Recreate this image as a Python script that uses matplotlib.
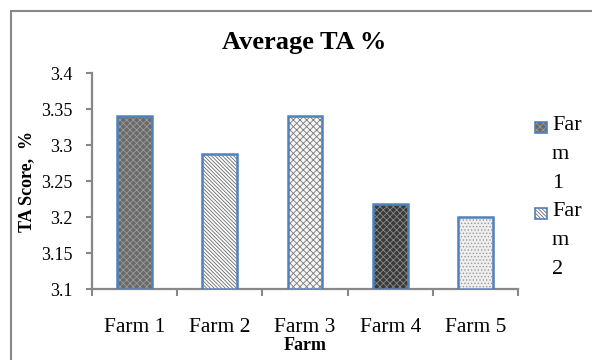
import numpy as np
import matplotlib
matplotlib.use("Agg")
import matplotlib.pyplot as plt
from matplotlib.patches import Rectangle

categories = ["Farm 1", "Farm 2", "Farm 3", "Farm 4", "Farm 5"]
values = [3.34, 3.288, 3.34, 3.218, 3.20]
legend_labels = ["Farm 1", "Farm 2"]
yticks = [3.1, 3.15, 3.2, 3.25, 3.3, 3.35, 3.4]
ytick_labels = ["3.1", "3.15", "3.2", "3.25", "3.3", "3.35", "3.4"]
title = "Average TA %"
xlabel = "Farm"
ylabel = "TA Score,  %"

# styles: (face, hatch colour, hatch)
styles = [
    ("#6a6a6a", "#9a9a9a", "xxxxx"),
    ("#ffffff", "#6a6a6a", "\\\\\\\\\\\\\\\\\\"),
    ("#f6f6f6", "#7a7a7a", "xxxxx"),
    ("#3a3a3a", "#8a8a8a", "xxxxx"),
    ("#eeeeee", "#9a9a9a", "....."),
]
edge_blue = "#4F81BD"
axis_gray = "#888888"

plt.rcParams["font.family"] = ["Liberation Serif", "DejaVu Serif"]
plt.rcParams["hatch.linewidth"] = 0.6

fig = plt.figure(figsize=(5.92, 3.6), dpi=100)
W, H = 592, 360
ax = fig.add_axes([92 / W, 1 - 289 / H, 426 / W, 216 / H])

base = yticks[0]
x = np.arange(len(categories))
bw = 0.41
for i, v in enumerate(values):
    fc, hc, hp = styles[i]
    ax.bar(x[i], v - base, bottom=base, width=bw, color=fc, edgecolor=hc,
           hatch=hp, linewidth=0, zorder=2)
    ax.bar(x[i], v - base, bottom=base, width=bw, fill=False,
           edgecolor=edge_blue, linewidth=1.8, zorder=3)

ax.set_xlim(-0.5, len(categories) - 0.5)
ax.set_ylim(yticks[0], yticks[-1])
ax.set_yticks(yticks)
ax.set_yticklabels(ytick_labels)
ax.tick_params(axis="y", direction="out", length=4, width=1.5, color=axis_gray,
               labelsize=13, pad=10)

ax.set_xticks(np.arange(len(categories) + 1) - 0.5)
ax.set_xticklabels([])
ax.tick_params(axis="x", which="major", direction="out", length=5, width=1.5,
               color=axis_gray)
ax.set_xticks(x, minor=True)
ax.set_xticklabels(categories, minor=True)
ax.tick_params(axis="x", which="minor", length=0, labelsize=15.5, pad=21)

for s in ["top", "right"]:
    ax.spines[s].set_visible(False)
for s in ["left", "bottom"]:
    ax.spines[s].set_color(axis_gray)
    ax.spines[s].set_linewidth(1.6)
ax.spines["bottom"].set_zorder(1)

ax.set_xlabel(xlabel, fontsize=13, fontweight="bold", labelpad=0)
ax.set_ylabel(ylabel, fontsize=13, fontweight="bold", labelpad=4)

fig.text(304 / W, 1 - 43 / H, title, fontsize=19, fontweight="bold",
         ha="center", va="center")

# outer chart border
fig.add_artist(Rectangle((11 / W, -0.1), 1.2, 1 - 11 / H + 0.1,
                         transform=fig.transFigure, fill=False,
                         edgecolor=axis_gray, linewidth=1.5))


def wrap_narrow(label, n=3):
    lines = []
    for word in label.split():
        lines += [word[k:k + n] for k in range(0, len(word), n)]
    return "\n".join(lines)


# legend (text wraps in the narrow legend area)
leg_tops = [122, 208]
for j, lab in enumerate(legend_labels):
    fc, hc, hp = styles[j]
    y0 = leg_tops[j]
    for kw in (dict(facecolor=fc, edgecolor=hc, hatch=hp, linewidth=0),
               dict(fill=False, edgecolor=edge_blue, linewidth=1.2)):
        fig.add_artist(Rectangle((535 / W, 1 - (y0 + 11) / H), 12 / W, 11 / H,
                                 transform=fig.transFigure, **kw))
    fig.text(552 / W, 1 - (y0 - 6) / H, wrap_narrow(lab), fontsize=16,
             ha="left", va="top", linespacing=1.72)

fig.savefig("out.png", dpi=100)
